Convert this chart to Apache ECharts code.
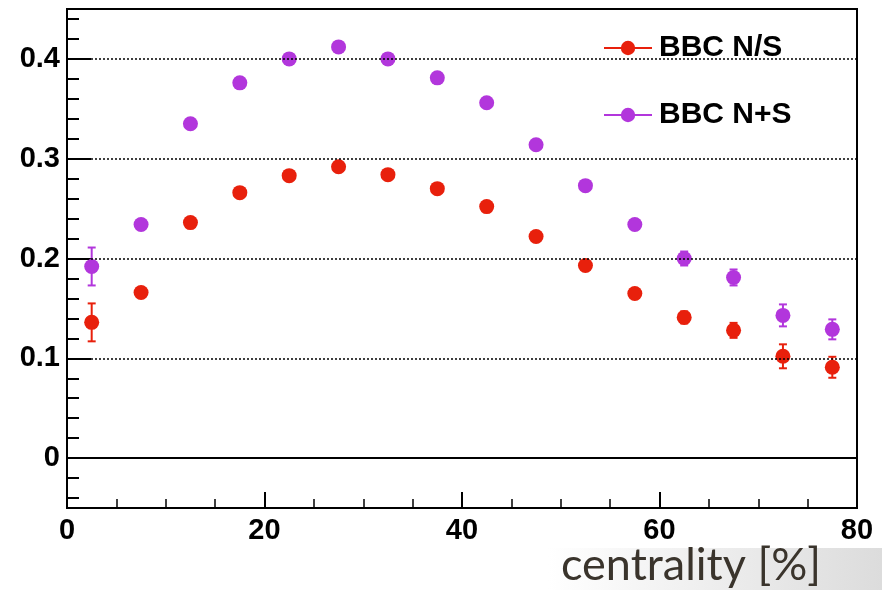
<!DOCTYPE html>
<html><head><meta charset="utf-8">
<script src="https://cdn.jsdelivr.net/npm/echarts@6/dist/echarts.min.js"></script>
<style>html,body{margin:0;padding:0;background:#fff}#c{width:882px;height:590px}</style>
</head><body><div id="c"></div>
<script>
var centrality = [2.5,7.5,12.5,17.5,22.5,27.5,32.5,37.5,42.5,47.5,52.5,57.5,62.5,67.5,72.5,77.5];
var bbcNS = [0.136,0.166,0.236,0.266,0.283,0.292,0.284,0.270,0.252,0.222,0.193,0.165,0.141,0.128,0.102,0.091];
var bbcNSerr = [0.019,0.004,0.003,0.003,0.003,0.003,0.003,0.003,0.003,0.003,0.003,0.004,0.006,0.0075,0.012,0.0105];
var bbcNpS = [0.192,0.234,0.335,0.376,0.400,0.412,0.400,0.381,0.356,0.314,0.273,0.234,0.200,0.181,0.143,0.129];
var bbcNpSerr = [0.019,0.004,0.003,0.003,0.003,0.003,0.003,0.003,0.003,0.003,0.003,0.004,0.007,0.008,0.011,0.010];
var yMajorTicks = [0,0.1,0.2,0.3,0.4];
var yMinorTicks = [-0.04,-0.02,0.02,0.04,0.06,0.08,0.12,0.14,0.16,0.18,0.22,0.24,0.26,0.28,0.32,0.34,0.36,0.38,0.42,0.44];
var dottedGrid = [0.1,0.2,0.3,0.4];
var names = ['BBC N/S','BBC N+S'];
var RED = '#e8200c', PURPLE = '#b236dc';

function pts(ys){ return centrality.map(function(x,i){return [x, ys[i]];}); }
function errs(ys, es){ return centrality.map(function(x,i){return [x, ys[i], es[i]];}); }
function errRender(color){
  return function(params, api){
    var x = api.value(0), y = api.value(1), e = api.value(2);
    var lo = api.coord([x, y - e]), hi = api.coord([x, y + e]);
    var st = {stroke: color, lineWidth: 2};
    return {type:'group', children:[
      {type:'line', shape:{x1:lo[0],y1:lo[1],x2:hi[0],y2:hi[1]}, style:st},
      {type:'line', shape:{x1:lo[0]-4,y1:lo[1],x2:lo[0]+4,y2:lo[1]}, style:st},
      {type:'line', shape:{x1:hi[0]-4,y1:hi[1],x2:hi[0]+4,y2:hi[1]}, style:st}
    ]};
  };
}
var labelFont = {fontFamily:'Liberation Sans', fontWeight:'bold', fontSize:29, color:'#000'};
var chart = echarts.init(document.getElementById('c'), null, {renderer:'canvas'});
chart.setOption({
  animation:false,
  grid:{left:67, right:25, top:9, bottom:82, show:true, borderColor:'#000', borderWidth:2, backgroundColor:'transparent'},
  legend:{
    orient:'vertical', left:603, top:33, padding:0, itemWidth:48, itemHeight:18, itemGap:37,
    textStyle:{fontFamily:'Liberation Sans', fontWeight:'bold', fontSize:30, color:'#000', lineHeight:28, padding:[0,0,0,2]},
    data:[
      {name:names[0], lineStyle:{width:2, opacity:1, color:RED}},
      {name:names[1], lineStyle:{width:2, opacity:1, color:PURPLE}}
    ]
  },
  xAxis:{type:'value', min:0, max:80, interval:20,
    axisLine:{show:true, onZero:false, lineStyle:{color:'#000', width:2}},
    axisTick:{show:true, inside:true, length:16, lineStyle:{color:'#000', width:2}},
    minorTick:{show:true, splitNumber:4, length:9, lineStyle:{color:'#000', width:1.5}},
    axisLabel:Object.assign({margin:8}, labelFont),
    splitLine:{show:false}
  },
  yAxis:[
    {type:'value', min:-0.05, max:0.45,
      axisLine:{show:true, lineStyle:{color:'#000', width:2}},
      axisTick:{show:true, inside:true, length:24, customValues:yMajorTicks, lineStyle:{color:'#000', width:2}},
      axisLabel:Object.assign({margin:7, customValues:yMajorTicks, formatter:function(v){return String(Math.round(v*10)/10);}}, labelFont),
      splitLine:{show:false}
    },
    {type:'value', min:-0.05, max:0.45, position:'left',
      axisLine:{show:false},
      axisTick:{show:true, inside:true, length:12, customValues:yMinorTicks, lineStyle:{color:'#000', width:2}},
      axisLabel:{show:false}, splitLine:{show:false}
    }
  ],
  series:[
    {type:'custom', name:'errNS', renderItem:errRender(RED), data:errs(bbcNS,bbcNSerr), z:3, silent:true,
      markLine:{silent:true, symbol:'none', label:{show:false},
        data:dottedGrid.map(function(v){return {yAxis:v, lineStyle:{type:[2,2], color:'#000', width:1.5}};})
          .concat([{yAxis:0, lineStyle:{type:'solid', color:'#000', width:2}}])}
    },
    {type:'custom', name:'errNpS', renderItem:errRender(PURPLE), data:errs(bbcNpS,bbcNpSerr), z:3, silent:true},
    {type:'line', name:names[0], data:pts(bbcNS), symbol:'circle', symbolSize:15,
      lineStyle:{width:0, opacity:0}, itemStyle:{color:RED}, z:4},
    {type:'line', name:names[1], data:pts(bbcNpS), symbol:'circle', symbolSize:15,
      lineStyle:{width:0, opacity:0}, itemStyle:{color:PURPLE}, z:4}
  ],
  graphic:[
    {type:'rect', left:548, top:548, z:-1, shape:{width:334, height:42},
      style:{fill:new echarts.graphic.LinearGradient(0,0,1,0,[{offset:0,color:'#ffffff'},{offset:1,color:'#dcdcdc'}])}},
    {type:'text', left:561, top:543, z:10,
      style:{text:'centrality [%]', fontFamily:'Lato', fontSize:45, fill:'#3a342c'}}
  ]
});
</script></body></html>
